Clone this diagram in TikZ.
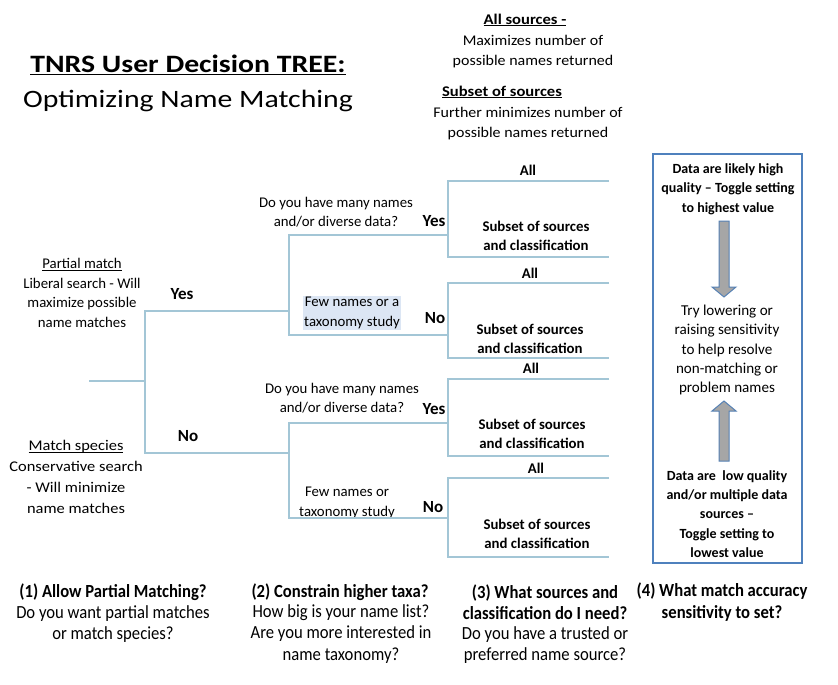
\documentclass[tikz,border=0pt]{standalone}
\usepackage{fontspec}
\setmainfont{Carlito}
\newfontfamily\titlefont[FakeStretch=1.19]{Carlito}
\newfontfamily\condfont[FakeStretch=0.9]{Carlito}
\newfontfamily\legfont[FakeStretch=1.08]{Carlito}
\newfontfamily\legbfont[FakeStretch=1.12]{Carlito}
\newfontfamily\widefont[FakeStretch=1.11]{Carlito}
\definecolor{treeline}{HTML}{A3C6D6}
\definecolor{boxblue}{HTML}{4F81BD}
\definecolor{hl}{HTML}{DCE6F4}
\definecolor{arrowgray}{HTML}{A6A6A6}
\newcommand{\myul}[1]{\setbox0\hbox{#1}\rlap{\rule[-0.13em]{\wd0}{0.065em}}\box0}
\begin{document}
\begin{tikzpicture}[x=1pt,y=-1pt,
  txt/.style={inner sep=0pt, align=center, font=\fontsize{14.8}{19.5}\selectfont},
  btxt/.style={inner sep=0pt, align=center, font=\fontsize{14.8}{19.5}\selectfont\bfseries},
  legtxt/.style={inner sep=0pt, align=center, font=\legfont\fontsize{14.8}{20}\selectfont},
  legbtxt/.style={inner sep=0pt, align=center, font=\legbfont\fontsize{14.8}{20}\selectfont\bfseries},
  rtxt/.style={inner sep=0pt, align=center, font=\fontsize{15.1}{19.4}\selectfont},
  rbtxt/.style={inner sep=0pt, align=center, font=\fontsize{14}{19.4}\selectfont\bfseries},
  yn/.style={inner sep=0pt, font=\fontsize{17}{20}\selectfont\bfseries},
  ctxt/.style={inner sep=0pt, align=center, font=\condfont\fontsize{18.5}{21.3}\selectfont},
  cbtxt/.style={inner sep=0pt, align=center, font=\condfont\fontsize{18.5}{21.3}\selectfont\bfseries},
  branch/.style={draw=treeline, line width=1.1pt},
  blockarrow/.style={fill=arrowgray, draw=boxblue!85!gray, line width=1pt, line join=miter},
]
\useasboundingbox[fill=white] (0,0) rectangle (838,685);

% title
\node[inner sep=0pt, font=\titlefont\fontsize{25}{30}\selectfont\bfseries] (title) at (188,65) {\myul{TNRS User Decision TREE:}};
\node[inner sep=0pt, font=\titlefont\fontsize{25}{30}\selectfont] (subtitle) at (188,101) {Optimizing Name Matching};

% legend
\node[legbtxt] (allsrc) at (525,20) {\myul{All sources -}};
\node[legtxt] (allsrcd) at (533,52) {Maximizes number of\\possible names returned};
\node[legbtxt] (subsrc) at (502,92) {\myul{Subset of sources}};
\node[legtxt] (subsrcd) at (528,124) {Further minimizes number of\\possible names returned};

% left texts
\node[txt] (partial) at (82,293) {\myul{Partial match}\\Liberal search - Will\\maximize possible\\name matches};
\node[txt, font=\widefont\fontsize{14.8}{21}\selectfont] (species) at (76,477) {\myul{Match species}\\Conservative search\\- Will minimize\\name matches};
\node[yn] (yes1) at (182,294) {Yes};
\node[yn] (no1) at (188,436) {No};

% second level
\node[txt] (q1) at (336,212) {Do you have many names\\and/or diverse data?};
\node[yn] (yes2) at (434,221) {Yes};
\node[txt, fill=hl, inner xsep=1pt, inner ysep=1pt] (few1) at (352,313) {Few names or a\\taxonomy study};
\node[yn] (no2) at (435,318) {No};
\node[txt] (q2) at (342,398) {Do you have many names\\and/or diverse data?};
\node[yn] (yes3) at (434,409) {Yes};
\node[txt] (few2) at (347,503) {Few names or\\taxonomy study};
\node[yn] (no3) at (433,507) {No};

% leaves
\node[btxt] (all1) at (528,170) {All};
\node[btxt] (sub1) at (536,236) {Subset of sources\\and classification};
\node[btxt] (all2) at (530,273) {All};
\node[btxt] (sub2) at (530,339) {Subset of sources\\and classification};
\node[btxt] (all3) at (531,368) {All};
\node[btxt] (sub3) at (532,434) {Subset of sources\\and classification};
\node[btxt] (all4) at (536,468) {All};
\node[btxt] (sub4) at (537,534) {Subset of sources\\and classification};

% tree coordinates
\coordinate (r0) at (89,381);
\coordinate (r1) at (145,381);
\coordinate (ya) at (145,311);
\coordinate (nb) at (145,453);
\coordinate (ya1) at (289,311);
\coordinate (nb1) at (289,453);
\coordinate (yat) at (289,235);
\coordinate (yab) at (289,335);
\coordinate (nbt) at (289,423);
\coordinate (nbb) at (289,518);
\coordinate (k1) at (448,235);
\coordinate (k2) at (448,335);
\coordinate (k3) at (448,423);
\coordinate (k4) at (448,518);
% leaf brackets
\coordinate (b1t) at (448,181); \coordinate (b1te) at (609,181);
\coordinate (b1b) at (448,257); \coordinate (b1be) at (609,257);
\coordinate (b2t) at (448,283); \coordinate (b2te) at (609,283);
\coordinate (b2b) at (448,358); \coordinate (b2be) at (609,358);
\coordinate (b3t) at (448,379); \coordinate (b3te) at (609,379);
\coordinate (b3b) at (448,456); \coordinate (b3be) at (609,456);
\coordinate (b4t) at (448,478); \coordinate (b4te) at (609,478);
\coordinate (b4b) at (448,557); \coordinate (b4be) at (609,557);

\draw[branch] (r0) -- (r1);
\draw[branch] (ya1) -- (ya) -- (nb) -- (nb1);
\draw[branch] (k1) -- (yat) -- (yab) -- (k2);
\draw[branch] (k3) -- (nbt) -- (nbb) -- (k4);
\draw[branch] (b1te) -- (b1t) -- (b1b) -- (b1be);
\draw[branch] (b2te) -- (b2t) -- (b2b) -- (b2be);
\draw[branch] (b3te) -- (b3t) -- (b3b) -- (b3be);
\draw[branch] (b4te) -- (b4t) -- (b4b) -- (b4be);

% sensitivity box
\node[draw=boxblue, line width=1.2pt, minimum width=149pt, minimum height=409pt, inner sep=0pt] (sens) at (727.5,358.5) {};
\node[rbtxt] (hi) at (728,189) {Data are likely high\\quality -- Toggle setting\\to highest value};
\node[rtxt] (mid) at (727,350) {Try lowering or\\raising sensitivity\\to help resolve\\non-matching or\\problem names};
\node[rbtxt] (lo) at (727,514) {Data are\ \ low quality\\and/or multiple data\\sources --\\Toggle setting to\\lowest value};
\draw[blockarrow] (719,221) -- (729,221) -- (729,287) -- (736,287) -- (724,297) -- (712,287) -- (719,287) -- cycle;
\draw[blockarrow] (724,401) -- (736,411) -- (729,411) -- (729,461) -- (719,461) -- (719,411) -- (712,411) -- cycle;

% bottom questions
\node[cbtxt] (h1) at (113,592) {(1) Allow Partial Matching?};
\node[ctxt] (d1) at (113,624) {Do you want partial matches\\or match species?};
\node[cbtxt] (h2) at (340,592) {(2) Constrain higher taxa?};
\node[ctxt] (d2) at (341,634) {How big is your name list?\\Are you more interested in\\name taxonomy?};
\node[cbtxt] (h3) at (545,602) {(3) What sources and\\classification do I need?};
\node[ctxt] (d3) at (545,645) {Do you have a trusted or\\preferred name source?};
\node[cbtxt] (h4) at (722,602) {(4) What match accuracy\\sensitivity to set?};
\end{tikzpicture}
\end{document}
